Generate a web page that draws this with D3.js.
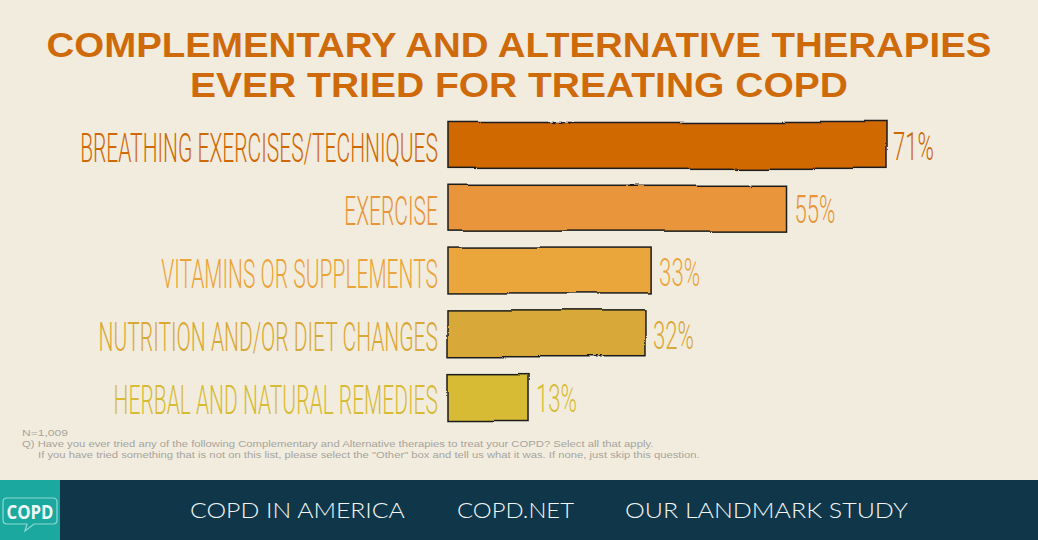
<!DOCTYPE html>
<html><head><meta charset="utf-8">
<script src="https://cdn.jsdelivr.net/npm/d3@7"></script>
<style>html,body{margin:0;padding:0;background:#F2ECDF;overflow:hidden}</style>
</head><body><svg id="chart" width="1038" height="540"></svg>
<script>
// ---- data ----
const categories = [
  "BREATHING EXERCISES/TECHNIQUES",
  "EXERCISE",
  "VITAMINS OR SUPPLEMENTS",
  "NUTRITION AND/OR DIET CHANGES",
  "HERBAL AND NATURAL REMEDIES"
];
const values = [71, 55, 33, 32, 13];
const valueLabels = ["71%", "55%", "33%", "32%", "13%"];
const titleLines = ["COMPLEMENTARY AND ALTERNATIVE THERAPIES", "EVER TRIED FOR TREATING COPD"];
const footnotes = [
  "N=1,009",
  "Q) Have you ever tried any of the following Complementary and Alternative therapies to treat your COPD? Select all that apply.",
  "If you have tried something that is not on this list, please select the \"Other\" box and tell us what it was. If none, just skip this question."
];
const footerLinks = ["COPD IN AMERICA", "COPD.NET", "OUR LANDMARK STUDY"];
const logoText = "COPD";

// ---- styles ----
const palette = ["#CF6905", "#E8953A", "#EAA53A", "#D8A937", "#D7BB35"];
const bg = "#F2ECDF";

const svg = d3.select("#chart");
svg.append("rect").attr("width", 1038).attr("height", 540).attr("fill", bg);

const defs = svg.append("defs");
const filt = defs.append("filter").attr("id", "rough").attr("x", "-5%").attr("y", "-20%").attr("width", "110%").attr("height", "140%");
filt.append("feTurbulence").attr("type", "fractalNoise").attr("baseFrequency", "0.006").attr("numOctaves", 1).attr("seed", 7).attr("result", "n");
filt.append("feDisplacementMap").attr("in", "SourceGraphic").attr("in2", "n").attr("scale", 8).attr("xChannelSelector", "R").attr("yChannelSelector", "G");

// helper: horizontally compress text to a target width using a transform
function fit(sel, widthFn) {
  sel.each(function(d, i) {
    const node = this;
    const t = d3.select(node);
    const x0 = +t.attr("x"), y0 = +t.attr("y");
    const w = node.getComputedTextLength();
    const k = widthFn(w, i);
    t.attr("x", 0).attr("y", 0)
     .attr("transform", `translate(${x0},${y0}) scale(${k},1)`);
  });
}

// Title
const titleSpec = [{y: 57, len: 945}, {y: 97, len: 658}];
svg.append("g").selectAll("text").data(titleLines).join("text")
  .attr("x", 519).attr("y", (d, i) => titleSpec[i].y)
  .attr("text-anchor", "middle")
  .attr("font-family", "'Liberation Sans', Arial, sans-serif")
  .attr("font-weight", 700)
  .attr("font-size", 35.5)
  .attr("fill", "#CF6A0A")
  .text(d => d)
  .call(fit, (w, i) => titleSpec[i].len / w);

// Scales
const x = d3.scaleLinear().domain([0, 71]).range([448, 885]);
const y = d3.scaleBand().domain(categories).range([114, 428]).paddingInner(0.27).paddingOuter(0.135);

// Bars
svg.append("g").attr("filter", "url(#rough)")
  .selectAll("rect").data(categories).join("rect")
  .attr("x", x(0))
  .attr("y", d => y(d))
  .attr("width", (d, i) => x(values[i]) - x(0))
  .attr("height", y.bandwidth())
  .attr("fill", (d, i) => palette[i])
  .attr("stroke", "#1b1b1b")
  .attr("stroke-width", 1.5);

// Category labels (condensed)
const labs = svg.append("g").selectAll("text").data(categories).join("text")
  .attr("x", 438)
  .attr("y", d => y(d) + y.bandwidth() / 2 + 17)
  .attr("text-anchor", "end")
  .attr("font-family", "Roboto, 'Liberation Sans', sans-serif")
  .attr("font-weight", 300)
  .attr("font-size", 40)
  .attr("fill", (d, i) => palette[i])
  .text(d => d);
const firstW = labs.node().getComputedTextLength();
const kLab = 358 / firstW;
labs.call(fit, () => kLab);

// Value labels
const vals = svg.append("g").selectAll("text").data(categories).join("text")
  .attr("x", (d, i) => x(values[i]) + 8)
  .attr("y", d => y(d) + y.bandwidth() / 2 + 15)
  .attr("font-family", "Roboto, 'Liberation Sans', sans-serif")
  .attr("font-weight", 300)
  .attr("font-size", 38)
  .attr("fill", (d, i) => palette[i])
  .text((d, i) => valueLabels[i]);
const vW = vals.nodes()[1].getComputedTextLength();
const kVal = 41 / vW;
vals.call(fit, () => kVal);

// Footnotes
const fnSpec = [{x: 22, y: 436, len: 46}, {x: 22, y: 447, len: 631}, {x: 38, y: 458, len: 662}];
svg.append("g").selectAll("text").data(footnotes).join("text")
  .attr("x", (d, i) => fnSpec[i].x)
  .attr("y", (d, i) => fnSpec[i].y)
  .attr("font-family", "'Liberation Sans', Arial, sans-serif")
  .attr("font-size", 9.6)
  .attr("fill", "#A6A49C")
  .text(d => d)
  .call(fit, (w, i) => fnSpec[i].len / w);

// Footer
svg.append("rect").attr("x", 0).attr("y", 480).attr("width", 1038).attr("height", 60).attr("fill", "#0F3649");
svg.append("rect").attr("x", 0).attr("y", 480).attr("width", 60).attr("height", 60).attr("fill", "#1AA89F");
svg.append("path")
  .attr("d", "M7,498 H53 Q57,498 57,502 V520 Q57,524 53,524 H34 L25,531 L27,524 H7 Q3,524 3,520 V502 Q3,498 7,498 Z")
  .attr("fill", "none").attr("stroke", "#8ED9D2").attr("stroke-width", 1.2);
svg.append("text").attr("x", 30).attr("y", 518.5).attr("text-anchor", "middle")
  .attr("font-family", "'Open Sans', 'Noto Sans', sans-serif").attr("font-weight", 700)
  .attr("font-size", 20).attr("fill", "#EEF9F7")
  .text(logoText)
  .call(fit, w => 47 / w);

const footSpec = [{x: 190, len: 215}, {x: 457, len: 117}, {x: 625, len: 283}];
svg.append("g").selectAll("text").data(footerLinks).join("text")
  .attr("x", (d, i) => footSpec[i].x)
  .attr("y", 518)
  .attr("font-family", "Lato, 'Open Sans', sans-serif")
  .attr("font-weight", 300)
  .attr("font-size", 22)
  .attr("fill", "#F4F6F6")
  .text(d => d)
  .call(fit, (w, i) => footSpec[i].len / w);
</script>
</body></html>
